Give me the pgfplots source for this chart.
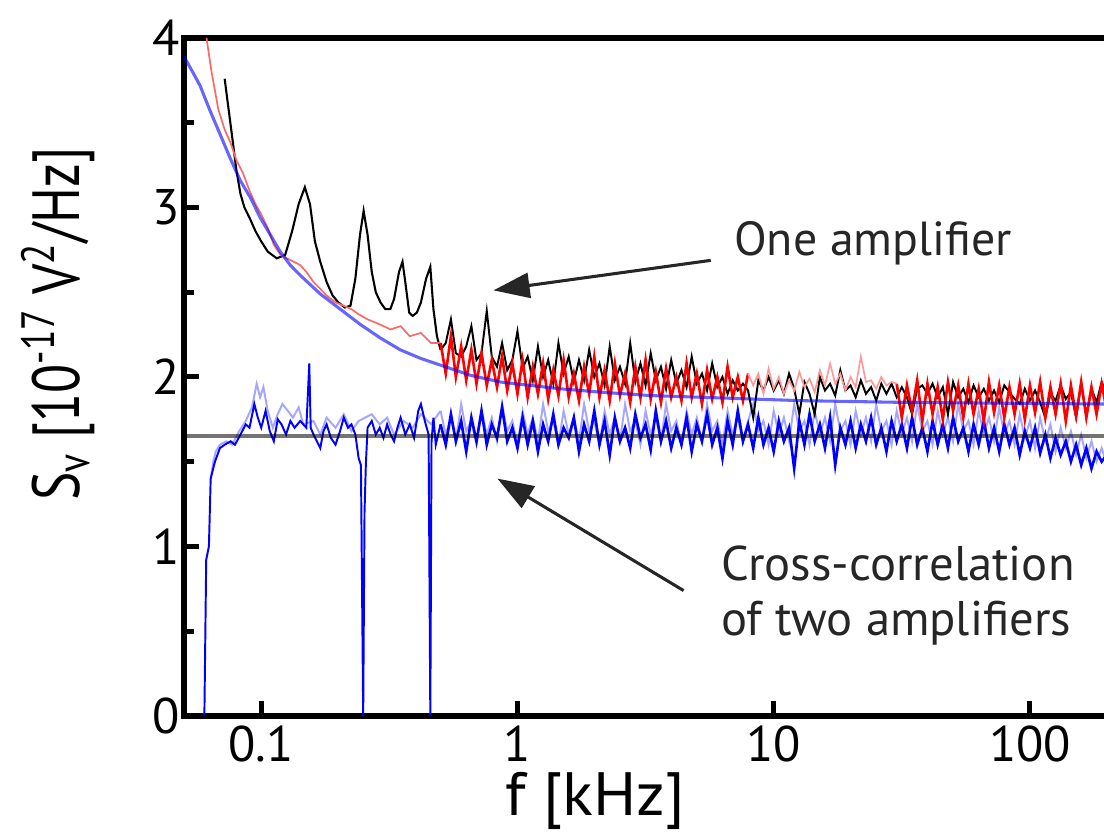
\documentclass[border=0pt]{standalone}
\usepackage{fontspec}
\setmainfont{PT Sans}
\newfontfamily\ylabfont{PT Sans}[FakeStretch=0.8]
\newfontfamily\xlabfont{PT Sans}[FakeStretch=1.05]
\usepackage{pgfplots}
\pgfplotsset{compat=1.18}
\usepackage{pgfplotstable}
\usetikzlibrary{arrows.meta}

% high-frequency part: f [kHz], one amplifier (k), red measurement (r), sparse red (p),
% cross-correlation (b), cross-correlation light trace (c)
\pgfplotstableread{
f      k     r     p     b     c
0.501  2.16  2.20  nan   1.72  1.80
0.525  2.20  2.02  nan   1.60  1.66
0.550  2.34  2.24  nan   1.78  1.76
0.575  2.14  2.00  nan   1.62  1.62
0.603  2.12  2.18  nan   1.74  1.84
0.631  2.18  1.98  nan   1.56  1.68
0.661  2.30  2.16  nan   1.76  1.74
0.692  2.10  1.96  nan   1.62  1.60
0.724  2.14  2.14  nan   1.80  1.80
0.759  2.39  1.95  nan   1.60  1.66
0.794  2.12  2.10  nan   1.72  1.76
0.832  2.06  1.94  nan   1.64  1.62
0.871  2.20  2.12  nan   1.82  1.84
0.912  2.04  1.92  nan   1.62  1.68
0.955  2.10  2.08  nan   1.70  1.74
1.000  2.27  1.90  nan   1.58  1.60
1.047  2.05  2.10  nan   1.76  1.80
1.096  2.12  1.88  nan   1.60  1.66
1.148  1.98  2.06  nan   1.74  1.76
1.202  2.18  1.90  nan   1.56  1.62
1.259  2.00  2.08  nan   1.72  1.84
1.318  2.10  1.87  nan   1.62  1.68
1.380  1.96  2.04  nan   1.78  1.74
1.445  2.20  1.89  nan   1.60  1.60
1.514  2.02  2.10  nan   1.70  1.80
1.585  2.12  1.88  nan   1.64  1.66
1.660  1.97  2.02  nan   1.76  1.76
1.738  2.10  1.86  nan   1.56  1.62
1.820  1.98  2.06  nan   1.72  1.84
1.905  2.16  1.90  nan   1.62  1.68
1.995  2.00  2.12  nan   1.80  1.74
2.089  2.08  1.88  nan   1.60  1.60
2.188  1.95  2.04  nan   1.74  1.80
2.291  2.18  1.86  nan   1.54  1.66
2.399  1.98  2.08  nan   1.76  1.76
2.512  2.06  1.89  nan   1.62  1.62
2.630  1.96  2.02  nan   1.70  1.84
2.754  2.20  1.85  nan   1.58  1.68
2.884  1.97  2.06  nan   1.78  1.74
3.020  2.08  1.88  nan   1.64  1.60
3.162  1.95  2.10  nan   1.72  1.80
3.311  2.14  1.87  nan   1.57  1.66
3.467  1.98  2.03  nan   1.80  1.76
3.631  2.06  1.85  nan   1.62  1.62
3.802  1.93  2.05  nan   1.74  1.84
3.981  2.10  1.88  nan   1.58  1.68
4.169  1.96  2.00  nan   1.70  1.74
4.365  2.04  1.86  nan   1.60  1.60
4.571  1.94  2.08  nan   1.76  1.80
4.786  2.12  1.88  nan   1.56  1.66
5.012  1.96  2.02  nan   1.72  1.76
5.248  2.02  1.84  nan   1.62  1.62
5.495  1.92  2.04  nan   1.78  1.84
5.754  2.08  1.87  nan   1.60  1.68
6.026  1.94  2.00  nan   1.70  1.74
6.310  2.00  1.85  nan   1.52  1.60
6.607  1.90  2.06  nan   1.74  1.80
6.918  1.98  1.88  nan   1.60  1.66
7.244  1.92  2.00  nan   1.80  1.76
7.586  1.96  1.86  nan   1.62  1.62
7.943  1.92  2.02  2.02  1.72  1.74
8.318  1.76  nan   1.95  1.58  1.84
8.710  1.98  nan   2.02  1.76  1.68
9.120  1.92  nan   1.90  1.60  1.74
9.550  2.00  nan   2.05  1.70  1.60
10.00  1.92  nan   1.93  1.56  1.80
10.47  1.98  nan   2.00  1.74  1.66
10.96  1.90  nan   1.90  1.62  1.76
11.48  2.02  nan   1.98  1.70  1.62
12.02  1.93  nan   1.92  1.46  1.84
12.59  1.78  nan   2.03  1.74  1.68
13.18  1.97  nan   1.94  1.60  1.74
13.80  1.90  nan   1.99  1.78  1.60
14.45  1.78  nan   1.91  1.62  1.80
15.14  2.00  nan   2.04  1.72  1.66
15.85  1.92  nan   1.95  1.58  1.76
16.60  1.96  nan   2.08  1.76  1.62
17.38  1.89  nan   1.96  1.48  1.84
18.20  2.04  nan   2.02  1.70  1.68
19.05  1.92  nan   1.92  1.60  1.74
19.95  1.95  nan   2.00  1.74  1.60
20.89  1.88  nan   1.94  1.58  1.80
21.88  1.98  nan   2.12  1.72  1.66
22.91  1.90  nan   1.97  1.62  1.76
23.99  1.94  nan   1.98  1.76  1.62
25.12  1.86  nan   1.93  1.60  1.84
26.30  1.96  nan   2.00  1.70  1.68
27.54  1.90  nan   1.95  1.56  1.74
28.84  1.96  nan   1.97  1.74  1.60
30.20  1.88  1.96  1.96  1.62  1.80
31.62  1.94  1.76  nan   1.72  1.66
33.11  1.88  1.95  nan   1.58  1.76
34.67  1.78  1.80  nan   1.76  1.62
36.31  1.93  1.98  nan   1.60  1.84
38.02  1.95  1.74  nan   1.70  1.68
39.81  1.90  1.96  nan   1.56  1.74
41.69  1.96  1.78  nan   1.74  1.60
43.65  1.88  1.94  nan   1.60  1.80
45.71  1.94  1.75  nan   1.72  1.66
47.86  1.78  1.97  nan   1.58  1.76
50.12  1.97  1.80  nan   1.76  1.62
52.48  1.88  1.95  nan   1.62  1.84
54.95  1.93  1.76  nan   1.70  1.68
57.54  1.85  1.96  nan   1.56  1.74
60.26  1.95  1.78  nan   1.72  1.60
63.10  1.88  1.93  nan   1.60  1.80
66.07  1.93  1.74  nan   1.74  1.66
69.18  1.86  1.97  nan   1.58  1.76
72.44  1.92  1.79  nan   1.70  1.62
75.86  1.85  1.95  nan   1.56  1.82
79.43  1.95  1.76  nan   1.72  1.66
83.18  1.91  1.94  nan   1.60  1.74
87.10  1.87  1.78  nan   1.70  1.60
91.20  1.84  1.96  nan   1.54  1.78
95.50  1.93  1.75  nan   1.68  1.64
100.0  1.86  1.95  nan   1.58  1.74
104.7  1.92  1.79  nan   1.70  1.58
109.6  1.85  1.97  nan   1.55  1.76
114.8  1.76  1.76  nan   1.66  1.62
120.2  1.90  1.94  nan   1.52  1.72
125.9  1.86  1.78  nan   1.64  1.56
131.8  1.95  1.96  nan   1.54  1.70
138.0  1.87  1.74  nan   1.62  1.58
144.5  1.91  1.95  nan   1.50  1.68
151.4  1.76  1.77  nan   1.60  1.54
158.5  1.96  1.97  nan   1.48  1.66
166.0  1.77  1.76  nan   1.58  1.52
173.8  1.93  1.94  nan   1.46  1.62
182.0  1.85  1.78  nan   1.56  1.50
190.5  1.97  1.96  nan   1.50  1.58
199.5  1.90  1.80  nan   1.54  1.48
}\hightable

\begin{document}
\begin{tikzpicture}
\begin{axis}[
  name=ax,
  scale only axis,
  width=331.9pt, height=243.7pt,
  xmode=log, xmin=0.05, xmax=200, ymin=0, ymax=4,
  xtick={0.1,1,10,100}, xticklabels={0.1,1,10,100},
  xminorticks=false,
  ytick={0,1,2,3,4}, yticklabels={0,1,2,3,4},
  minor ytick={0.5,1.5,2.5,3.5},
  xtick pos=left, ytick pos=left,
  tick align=inside,
  major tick length=5.4pt, minor tick length=3.6pt,
  tick style={black, line width=1.8pt},
  axis line style={line width=2pt},
  tick label style={font=\fontsize{18}{20}\selectfont},
  yticklabel style={xshift=2pt},
  xlabel={f [kHz]},
  ylabel={S\textsubscript{v} [10\textsuperscript{-17} V\textsuperscript{2}/Hz]},
  xlabel style={font=\xlabfont\fontsize{22}{26}\selectfont, xshift=-18pt, yshift=3pt},
  ylabel style={font=\ylabfont\fontsize{24}{28}\selectfont, at={(ticklabel cs:0.578)}},
  ylabel shift=14pt,
  unbounded coords=jump,
  /pgf/number format/assume math mode=true,
]
% cross-correlation, light trace
\addplot[blue!35, line width=0.7pt] coordinates {
(0.0635,1.40) (0.0650,1.50) (0.0665,1.56) (0.0690,1.60) (0.0730,1.62) (0.0770,1.60)
(0.0820,1.68) (0.0870,1.74) (0.0920,1.82) (0.0960,1.96) (0.0990,1.88) (0.1020,1.94)
(0.1060,1.80) (0.1110,1.70) (0.1160,1.78) (0.1210,1.84) (0.1270,1.80) (0.1330,1.76)
(0.1400,1.82) (0.1460,1.72) (0.1600,1.74) (0.1700,1.66) (0.1800,1.76) (0.1950,1.70)
(0.2100,1.78) (0.2250,1.68) (0.2400,1.74) (0.2700,1.78) (0.2900,1.72) (0.3100,1.76)
(0.3300,1.66) (0.3600,1.74) (0.3900,1.70) (0.4200,1.78) (0.4600,1.72) (0.5010,1.80)};
\addplot[blue!35, line width=0.7pt] table[x=f, y=c] {\hightable};
% cross-correlation
\addplot[blue, line width=0.7pt] coordinates {
(0.0600,0.00) (0.0610,0.92) (0.0625,1.00) (0.0635,1.40) (0.0660,1.50) (0.0690,1.58)
(0.0720,1.60) (0.0760,1.62) (0.0790,1.60) (0.0830,1.66) (0.0870,1.72) (0.0900,1.70)
(0.0940,1.84) (0.0970,1.76) (0.1000,1.70) (0.1040,1.80) (0.1080,1.68) (0.1120,1.62)
(0.1160,1.75) (0.1200,1.72) (0.1250,1.66) (0.1300,1.74) (0.1350,1.70) (0.1420,1.74)
(0.1500,1.70) (0.1540,2.08) (0.1560,1.70) (0.1600,1.66) (0.1650,1.62) (0.1700,1.58)
(0.1750,1.68) (0.1800,1.72) (0.1870,1.64) (0.1950,1.60) (0.2030,1.68) (0.2100,1.76)
(0.2180,1.70) (0.2250,1.72) (0.2330,1.66) (0.2400,1.52) (0.2450,1.48) (0.2500,0.00)
(0.2530,1.20) (0.2560,1.48) (0.2600,1.70) (0.2700,1.74) (0.2800,1.66) (0.2900,1.70)
(0.3000,1.64) (0.3100,1.72) (0.3200,1.66) (0.3300,1.62) (0.3400,1.70) (0.3500,1.76)
(0.3650,1.66) (0.3800,1.72) (0.3950,1.64) (0.4100,1.80) (0.4200,1.84) (0.4350,1.74)
(0.4500,1.66) (0.4570,0.00) (0.4620,1.62) (0.4700,1.76) (0.4800,1.60) (0.5010,1.72)};
\addplot[blue, line width=0.95pt] table[x=f, y=b] {\hightable};
% one amplifier
\addplot[black, line width=0.75pt] coordinates {
(0.0720,3.76) (0.0740,3.62) (0.0770,3.42) (0.0800,3.22) (0.0830,3.08) (0.0860,3.00)
(0.0900,2.94) (0.0950,2.86) (0.1000,2.80) (0.1060,2.74) (0.1150,2.70) (0.1240,2.72)
(0.1320,2.86) (0.1400,3.02) (0.1480,3.12) (0.1550,3.02) (0.1620,2.80) (0.1700,2.68)
(0.1800,2.56) (0.1900,2.48) (0.2000,2.44) (0.2120,2.41) (0.2230,2.42) (0.2330,2.58)
(0.2430,2.84) (0.2510,2.98) (0.2600,2.84) (0.2700,2.62) (0.2800,2.50) (0.2920,2.44)
(0.3050,2.40) (0.3190,2.40) (0.3300,2.46) (0.3450,2.62) (0.3560,2.68) (0.3650,2.56)
(0.3780,2.38) (0.3900,2.36) (0.4050,2.38) (0.4200,2.44) (0.4400,2.58) (0.4570,2.65)
(0.4700,2.40) (0.4850,2.24) (0.5010,2.16)};
\addplot[black, line width=0.7pt] table[x=f, y=k] {\hightable};
% second measurement (red)
\addplot[red!60, line width=0.6pt] coordinates {
(0.0605,4.05) (0.0640,3.80) (0.0680,3.58) (0.0720,3.46) (0.0760,3.38) (0.0800,3.28)
(0.0850,3.20) (0.0900,3.10) (0.0950,3.02) (0.1000,2.96) (0.1060,2.88) (0.1120,2.78)
(0.1190,2.72) (0.1260,2.70) (0.1340,2.68) (0.1420,2.66) (0.1500,2.62) (0.1600,2.56)
(0.1700,2.52) (0.1800,2.48) (0.1950,2.44) (0.2100,2.42) (0.2250,2.40) (0.2400,2.37)
(0.2600,2.34) (0.2800,2.32) (0.3000,2.30) (0.3200,2.28) (0.3500,2.30) (0.3800,2.24)
(0.4200,2.26) (0.4600,2.20) (0.5010,2.20)};
\addplot[red, line width=0.95pt] table[x=f, y=r] {\hightable};
\addplot[red!40, line width=0.6pt] table[x=f, y=p] {\hightable};
% 1/f fit
\addplot[blue, draw opacity=0.6, line width=1.1pt] coordinates {
(0.0500,3.89) (0.0540,3.80) (0.0577,3.72) (0.0632,3.57) (0.0692,3.43) (0.0757,3.29)
(0.0828,3.16) (0.0906,3.06) (0.0991,2.94) (0.1084,2.84) (0.1186,2.74) (0.1298,2.66)
(0.1420,2.60) (0.1699,2.49) (0.2034,2.40) (0.2435,2.31) (0.2915,2.23) (0.3490,2.16)
(0.4180,2.11) (0.5000,2.07) (0.6540,2.01) (0.8570,1.97) (1.120,1.95) (1.470,1.93)
(2.110,1.91) (3.310,1.89) (5.190,1.88) (12.70,1.86) (31.20,1.85) (77.00,1.845)
(200.0,1.84)};
% level of the cross-correlation
\addplot[black!55, line width=1.3pt, blend mode=multiply] coordinates {(0.05,1.65) (200,1.65)};

% annotations
\draw[black!85, line width=1.1pt, -{Triangle[length=13pt, width=9pt]}]
  (axis cs:5.68,2.688) -- (axis cs:0.806,2.511);
\draw[black!85, line width=1.1pt, -{Triangle[length=13pt, width=9pt]}]
  (axis cs:4.45,0.739) -- (axis cs:0.835,1.400);
\node[anchor=west, inner sep=0pt, text=black!85, font=\fontsize{17.2}{20}\selectfont]
  at (axis cs:6.98,2.79) {One amplifier};
\node[anchor=west, inner sep=0pt, text=black!85, font=\fontsize{17.5}{20}\selectfont]
  at (axis cs:6.21,0.898) {Cross-correlation};
\node[anchor=west, inner sep=0pt, text=black!85, font=\fontsize{17.5}{20}\selectfont]
  at (axis cs:6.21,0.549) {of two amplifiers};
\end{axis}
\pgfresetboundingbox
\useasboundingbox ([shift={(-66.2pt,-43.6pt)}]ax.south west) rectangle ([shift={(-1.1pt,13.7pt)}]ax.north east);
\end{tikzpicture}
\end{document}
